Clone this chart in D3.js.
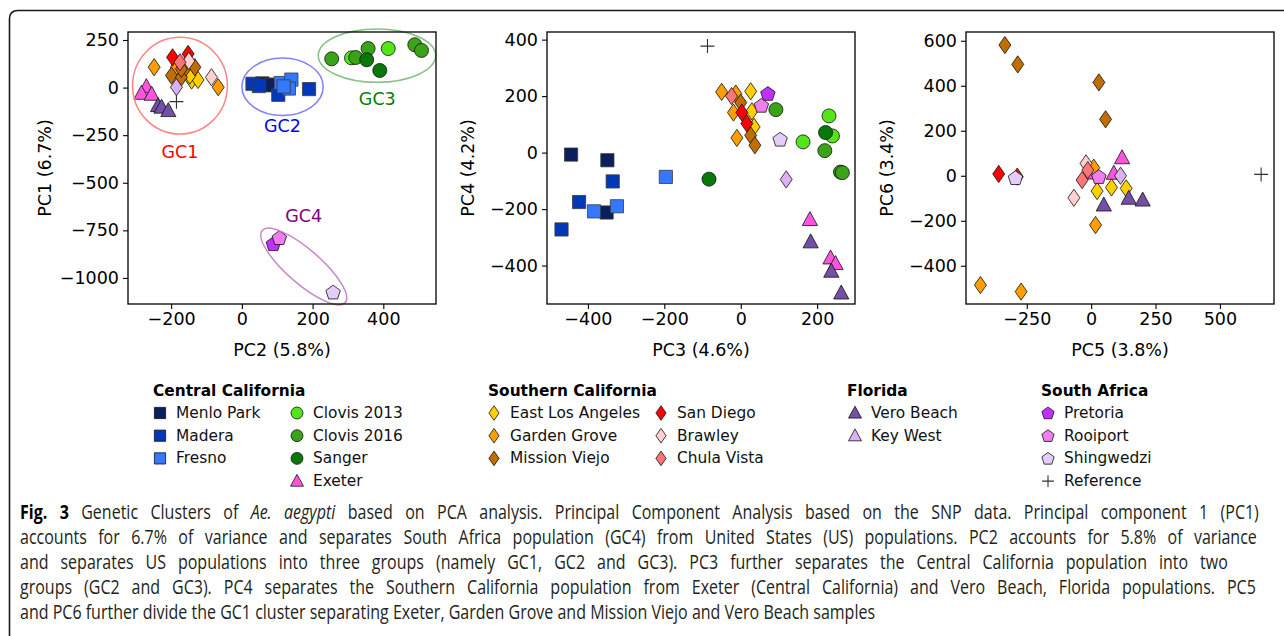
<!DOCTYPE html>
<html><head><meta charset="utf-8">
<script src="https://cdn.jsdelivr.net/npm/d3@7"></script>
<style>
html,body{margin:0;padding:0;background:#fff;}
svg{display:block;}
</style></head>
<body>
<svg id="chart" width="1284" height="636"></svg>
<script>
// ---------------- DATA ----------------
const populations = ["Menlo Park","Madera","Fresno","Clovis 2013","Clovis 2016","Sanger","Exeter",
  "East Los Angeles","Garden Grove","Mission Viejo","San Diego","Brawley","Chula Vista",
  "Vero Beach","Key West","Pretoria","Rooiport","Shingwedzi","Reference"];

// Panel A: [population, PC2, PC1]
const pcaPC2PC1 = [
  ["Menlo Park",58,22],["Menlo Park",72,16],["Menlo Park",86,12],
  ["Madera",30,20],["Madera",48,8],["Madera",103,-38],["Madera",190,-8],
  ["Fresno",110,24],["Fresno",140,42],["Fresno",133,-5],["Fresno",118,6],
  ["Clovis 2013",310,156],["Clovis 2013",414,205],
  ["Clovis 2016",254,151],["Clovis 2016",322,158],["Clovis 2016",357,205],["Clovis 2016",489,225],["Clovis 2016",508,195],
  ["Sanger",353,146],["Sanger",390,90],
  ["Exeter",-270,5],["Exeter",-284,-30],["Exeter",-255,-35],
  ["East Los Angeles",-142,37],["East Los Angeles",-124,40],["East Los Angeles",-147,63],
  ["Garden Grove",-248,107],["Garden Grove",-67,2],["Garden Grove",-185,107],
  ["Mission Viejo",-199,63],["Mission Viejo",-171,54],["Mission Viejo",-158,107],["Mission Viejo",-133,107],["Mission Viejo",-171,98],
  ["San Diego",-196,159],["San Diego",-152,177],
  ["Brawley",-86,54],["Brawley",-150,140],
  ["Chula Vista",-175,133],
  ["Vero Beach",-237,-95],["Vero Beach",-227,-103],["Vero Beach",-208,-121],
  ["Key West",-185,2],
  ["Pretoria",89,-821],["Rooiport",106,-789],["Shingwedzi",258,-1075],
  ["Reference",-185,-74]
];
// Panel B: [population, PC3, PC4]
const pcaPC3PC4 = [
  ["Menlo Park",-444,-7],["Menlo Park",-349,-27],["Menlo Park",-351,-212],
  ["Madera",-423,-175],["Madera",-335,-102],["Madera",-469,-272],
  ["Fresno",-384,-208],["Fresno",-324,-190],["Fresno",-196,-86],
  ["Clovis 2013",231,130],["Clovis 2013",240,59],["Clovis 2013",163,38],
  ["Clovis 2016",92,152],["Clovis 2016",220,7],["Clovis 2016",261,-69],["Clovis 2016",266,-71],
  ["Sanger",-83,-94],["Sanger",222,71],
  ["Exeter",181,-237],["Exeter",235,-373],["Exeter",248,-393],
  ["East Los Angeles",26,217],["East Los Angeles",29,146],["East Los Angeles",35,91],
  ["Garden Grove",-50,215],["Garden Grove",-13,209],["Garden Grove",-19,142],["Garden Grove",-10,52],
  ["Mission Viejo",0,177],["Mission Viejo",26,61],["Mission Viejo",37,26],
  ["San Diego",3,142],["San Diego",16,103],
  ["Chula Vista",-24,200],
  ["Vero Beach",183,-316],["Vero Beach",237,-420],["Vero Beach",263,-497],
  ["Key West",119,-95],
  ["Pretoria",71,209],["Rooiport",54,167],["Shingwedzi",103,47],
  ["Reference",-87,377]
];
// Panel C: [population, PC5, PC6]
const pcaPC5PC6 = [
  ["Exeter",120,80],["Exeter",88,11],["Exeter",10,12],
  ["East Los Angeles",23,-68],["East Los Angeles",79,-52],["East Los Angeles",136,-56],
  ["Garden Grove",-430,-486],["Garden Grove",-272,-515],["Garden Grove",17,-219],["Garden Grove",10,36],
  ["Mission Viejo",-335,581],["Mission Viejo",-285,495],["Mission Viejo",30,415],["Mission Viejo",56,251],
  ["San Diego",-359,8],["San Diego",-287,-4],
  ["Brawley",-20,55],["Brawley",-67,-98],
  ["Chula Vista",-35,-19],["Chula Vista",-13,25],
  ["Vero Beach",49,-130],["Vero Beach",146,-100],["Vero Beach",200,-108],
  ["Key West",114,0],
  ["Rooiport",30,-4],["Shingwedzi",-294,-9],
  ["Reference",660,6]
];

const ticksA_x = [-200,0,200,400], ticksA_y = [250,0,-250,-500,-750,-1000];
const ticksB_x = [-400,-200,0,200], ticksB_y = [400,200,0,-200,-400];
const ticksC_x = [-250,0,250,500], ticksC_y = [600,400,200,0,-200,-400];

const axisLabels = [["PC2 (5.8%)","PC1 (6.7%)"],["PC3 (4.6%)","PC4 (4.2%)"],["PC5 (3.8%)","PC6 (3.4%)"]];

// cluster annotations on panel A: [label, centerX, centerY, radiusX, radiusY (data units)]
const clusters = [["GC1",-175,10,134,254],["GC2",115,4,115,151],["GC3",382,168,166,140]];
const clusterLabels = [["GC1",-175,-336],["GC2",115,-200],["GC3",383,-59],["GC4",175,-676]];
const gc4Center = [175,-940];

const legendGroups = [
  ["Central California", ["Menlo Park","Madera","Fresno"], ["Clovis 2013","Clovis 2016","Sanger","Exeter"]],
  ["Southern California", ["East Los Angeles","Garden Grove","Mission Viejo"], ["San Diego","Brawley","Chula Vista"]],
  ["Florida", ["Vero Beach","Key West"], []],
  ["South Africa", ["Pretoria","Rooiport","Shingwedzi","Reference"], []]
];

const captionLines = [
  [["b","Fig. 3"],["n"," Genetic Clusters of "],["i","Ae. aegypti"],["n"," based on PCA analysis. Principal Component Analysis based on the SNP data. Principal component 1 (PC1)"]],
  [["n","accounts for 6.7% of variance and separates South Africa population (GC4) from United States (US) populations. PC2 accounts for 5.8% of variance"]],
  [["n","and separates US populations into three groups (namely GC1, GC2 and GC3). PC3 further separates the Central California population into two"]],
  [["n","groups (GC2 and GC3). PC4 separates the Southern California population from Exeter (Central California) and Vero Beach, Florida populations. PC5"]],
  [["n","and PC6 further divide the GC1 cluster separating Exeter, Garden Grove and Mission Viejo and Vero Beach samples"]]
];

// ---------------- STYLES ----------------
const style = {
  "Menlo Park":{c:"#0a1f5c",s:"square"},
  "Madera":{c:"#0038b8",s:"square"},
  "Fresno":{c:"#3378ff",s:"square"},
  "Clovis 2013":{c:"#52e619",s:"circle"},
  "Clovis 2016":{c:"#3aa318",s:"circle"},
  "Sanger":{c:"#08780a",s:"circle"},
  "Exeter":{c:"#ff55dd",s:"triangle"},
  "East Los Angeles":{c:"#ffd000",s:"diamond"},
  "Garden Grove":{c:"#ff9e00",s:"diamond"},
  "Mission Viejo":{c:"#c06e00",s:"diamond"},
  "San Diego":{c:"#ff0000",s:"diamond"},
  "Brawley":{c:"#ffd0d0",s:"diamond"},
  "Chula Vista":{c:"#ff7474",s:"diamond"},
  "Vero Beach":{c:"#7350a8",s:"triangle"},
  "Key West":{c:"#dcb0f4",s:"diamond",legend:"triangle"},
  "Pretoria":{c:"#c030ff",s:"pentagon"},
  "Rooiport":{c:"#f07ef0",s:"pentagon"},
  "Shingwedzi":{c:"#e4cdf8",s:"pentagon"},
  "Reference":{c:"#000",s:"plus"}
};
const clusterColors = {GC1:"#ff8585",GC2:"#8080ff",GC3:"#85c285",GC4:"#c788c7"};
const clusterTextColors = {GC1:"#ff0000",GC2:"#0000ff",GC3:"#008000",GC4:"#800080"};

const FONT = "'DejaVu Sans', sans-serif";
const TICK_FS = 17.5, LABEL_FS = 17.5, LEG_FS = 15.4;

function shapePath(shape, k){
  k = k || 1;
  switch(shape){
    case "square": { const h=6.6*k; return `M${-h},${-h}H${h}V${h}H${-h}Z`; }
    case "circle": { const r=7*k; return `M${r},0A${r},${r} 0 1,1 ${-r},0A${r},${r} 0 1,1 ${r},0Z`; }
    case "triangle": { const w=7.6*k, t=8*k, b=6*k; return `M0,${-t}L${w},${b}L${-w},${b}Z`; }
    case "diamond": { const w=6*k, h=8.6*k; return `M0,${-h}L${w},0L0,${h}L${-w},0Z`; }
    case "pentagon": { const r=7.6*k; let p=[]; for(let i=0;i<5;i++){const a=-Math.PI/2+i*2*Math.PI/5; p.push([r*Math.cos(a), r*Math.sin(a)+0.6*k]);} return "M"+p.map(d=>d.join(",")).join("L")+"Z"; }
    case "plus": { const a=7*k; return `M${-a},0H${a}M0,${-a}V${a}`; }
  }
}

const svg = d3.select("#chart");

// frame
svg.append("path").attr("d","M9.5,636 V19 Q9.5,10.5 18,10.5 H1284")
  .attr("fill","none").attr("stroke","#1a1a1a").attr("stroke-width",1.6);

const panels = [
  {data:pcaPC2PC1, x0:128, x1:436, dx:[-322,549], dy:[-1137,292], tx:ticksA_x, ty:ticksA_y, lab:axisLabels[0], ylx:45},
  {data:pcaPC3PC4, x0:547, x1:855, dx:[-507,299], dy:[-536,427], tx:ticksB_x, ty:ticksB_y, lab:axisLabels[1], ylx:468},
  {data:pcaPC5PC6, x0:966, x1:1274, dx:[-486,710], dy:[-570,639], tx:ticksC_x, ty:ticksC_y, lab:axisLabels[2], ylx:887}
];
const plotTop=32, plotBottom=304;

panels.forEach((p, pi) => {
  const x = d3.scaleLinear().domain(p.dx).range([p.x0, p.x1]);
  const y = d3.scaleLinear().domain(p.dy).range([plotBottom, plotTop]);
  const g = svg.append("g");

  const fmt = d3.format("d");
  const ax = g.append("g").attr("transform",`translate(0,${plotBottom})`)
    .call(d3.axisBottom(x).tickValues(p.tx).tickSize(5).tickPadding(4).tickFormat(fmt));
  const ay = g.append("g").attr("transform",`translate(${p.x0},0)`)
    .call(d3.axisLeft(y).tickValues(p.ty).tickSize(5).tickPadding(4).tickFormat(fmt));
  [ax,ay].forEach(a=>{
    a.select(".domain").remove();
    a.selectAll("line").attr("stroke","#000").attr("stroke-width",1.1);
    a.selectAll("text").attr("font-family",FONT).attr("font-size",TICK_FS).attr("fill","#000");
  });

  // points
  const order = d => populations.indexOf(d[0]);
  const pts = p.data.slice().sort((a,b)=>order(a)-order(b));
  g.append("g").selectAll("path").data(pts).join("path")
    .attr("transform", d=>`translate(${x(d[1])},${y(d[2])})`)
    .attr("d", d=>shapePath(style[d[0]].s))
    .attr("fill", d=> style[d[0]].s==="plus" ? "none" : style[d[0]].c)
    .attr("stroke", d=> style[d[0]].s==="plus" ? "#333" : (style[d[0]].s==="square" ? "#3a3a3a" : "#111"))
    .attr("stroke-width", d=> style[d[0]].s==="plus" ? 1.1 : 0.8);

  // cluster annotations (panel A)
  if(pi===0){
    clusters.forEach(c=>{
      g.append("ellipse")
        .attr("cx",x(c[1])).attr("cy",y(c[2]))
        .attr("rx",Math.abs(x(c[1]+c[3])-x(c[1]))).attr("ry",Math.abs(y(c[2]+c[4])-y(c[2])))
        .attr("fill","none").attr("stroke",clusterColors[c[0]]).attr("stroke-width",1.5);
    });
    g.append("ellipse")
      .attr("transform",`translate(${x(gc4Center[0])},${y(gc4Center[1])}) rotate(41)`)
      .attr("rx",55).attr("ry",17)
      .attr("fill","none").attr("stroke",clusterColors.GC4).attr("stroke-width",1.5);
    clusterLabels.forEach(l=>{
      g.append("text").attr("x",x(l[1])).attr("y",y(l[2]))
        .attr("text-anchor","middle").attr("dominant-baseline","central")
        .attr("font-family",FONT).attr("font-size",LABEL_FS).attr("fill",clusterTextColors[l[0]]).text(l[0]);
    });
  }

  // frame
  g.append("rect").attr("x",p.x0).attr("y",plotTop).attr("width",p.x1-p.x0).attr("height",plotBottom-plotTop)
    .attr("fill","none").attr("stroke","#000").attr("stroke-width",1.3);

  // axis labels
  g.append("text").attr("x",(p.x0+p.x1)/2).attr("y",350).attr("text-anchor","middle")
    .attr("dominant-baseline","central").attr("font-family",FONT).attr("font-size",LABEL_FS).text(p.lab[0]);
  g.append("text").attr("transform",`translate(${p.ylx},${(plotTop+plotBottom)/2}) rotate(-90)`)
    .attr("text-anchor","middle").attr("dominant-baseline","central")
    .attr("font-family",FONT).attr("font-size",LABEL_FS).text(p.lab[1]);
});

// ---------------- LEGEND ----------------
const legendX = [[153,160,297],[488,494,661],[847,855,null],[1041,1048,null]];
const rowY0 = 413, rowDY = 22.7;
legendGroups.forEach((grp, gi) => {
  const [tx, c1, c2] = legendX[gi];
  const lg = svg.append("g");
  lg.append("text").attr("x",tx).attr("y",391).attr("dominant-baseline","central")
    .attr("font-family",FONT).attr("font-weight","bold").attr("font-size",LEG_FS).attr("fill","#000").text(grp[0]);
  [[grp[1],c1],[grp[2],c2]].forEach(([items, cx])=>{
    items.forEach((name, i)=>{
      const st = style[name];
      const shp = st.legend || st.s;
      lg.append("path").attr("transform",`translate(${cx},${rowY0+i*rowDY})`)
        .attr("d", shapePath(shp, 0.85))
        .attr("fill", shp==="plus" ? "none" : st.c)
        .attr("stroke", shp==="plus" ? "#333" : "#111").attr("stroke-width", shp==="plus"?1.1:0.8);
      lg.append("text").attr("x",cx+16).attr("y",rowY0+i*rowDY).attr("dominant-baseline","central")
        .attr("font-family",FONT).attr("font-size",LEG_FS).attr("fill","#111").text(name);
    });
  });
});

// ---------------- CAPTION ----------------
// condensed look: one common horizontal scale (from the last, unjustified line),
// lines 1-4 justified to the full width through word spacing
const capTargets = [1240,1238,1209,1237,856];
const capNodes = captionLines.map((line, li)=>{
  const t = svg.append("text").attr("x",0).attr("y",519+li*25)
    .attr("font-family","'Open Sans', sans-serif").attr("font-size",19.5).attr("fill","#231f20");
  line.forEach(([kind, str])=>{
    const ts = t.append("tspan").text(str);
    if(kind==="b"){ ts.attr("font-weight","bold").attr("fill","#000"); }
    if(kind==="i"){ ts.attr("font-style","italic"); }
  });
  return t;
});
const last = capNodes.length-1;
const kScale = capTargets[last] / capNodes[last].node().getComputedTextLength();
capNodes.forEach((t, li)=>{
  if(li < last){
    const w = t.node().getComputedTextLength();
    const spaces = (captionLines[li].map(d=>d[1]).join("").match(/ /g)||[]).length;
    const extra = (capTargets[li]/kScale - w)/spaces;
    t.attr("word-spacing", extra);
  }
  t.attr("transform",`translate(20,0) scale(${kScale},1)`);
});
</script>
</body></html>
